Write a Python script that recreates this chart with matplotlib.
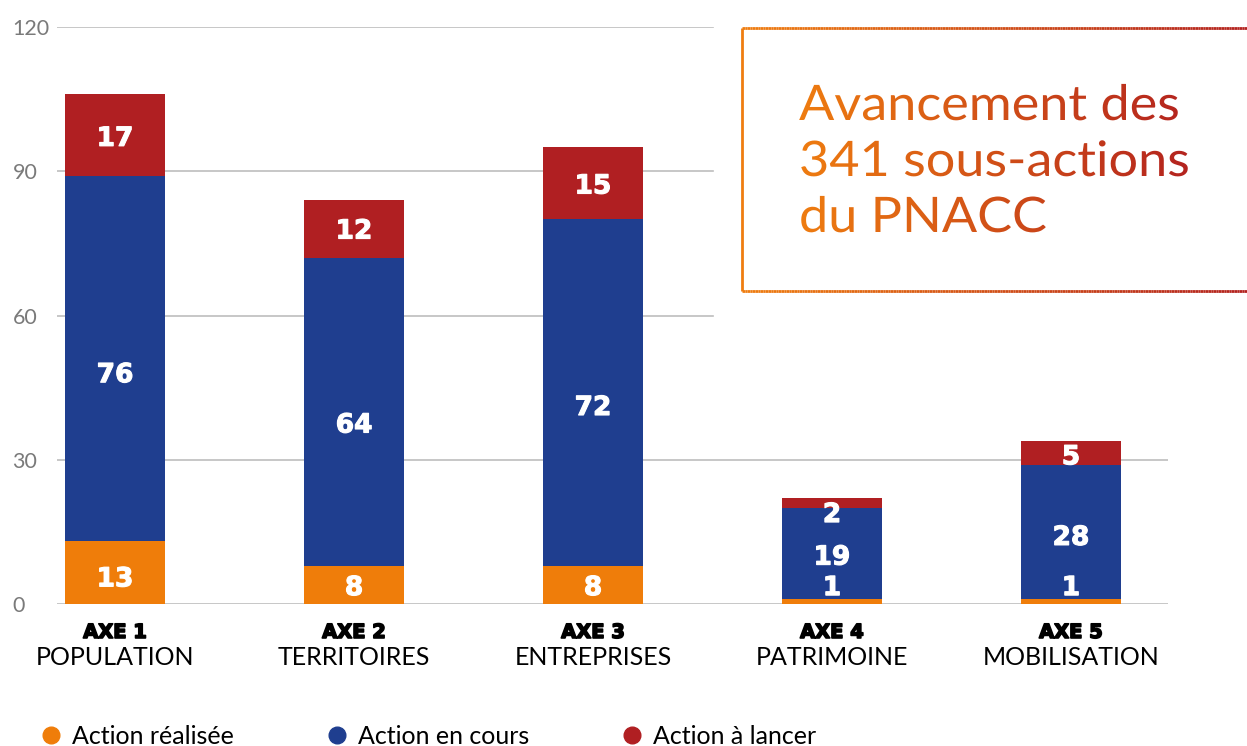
import numpy as np
import matplotlib
matplotlib.use("Agg")
import matplotlib.pyplot as plt
import matplotlib.colors as mcolors
import matplotlib.patheffects as pe
from matplotlib.lines import Line2D
from matplotlib.textpath import TextPath
from matplotlib.patches import PathPatch
from matplotlib.path import Path
from matplotlib.transforms import Affine2D
from matplotlib.font_manager import FontProperties
from matplotlib.collections import LineCollection

# data
axes_num = ["AXE 1", "AXE 2", "AXE 3", "AXE 4", "AXE 5"]
axes_names = ["POPULATION", "TERRITOIRES", "ENTREPRISES", "PATRIMOINE", "MOBILISATION"]
realisee = [13, 8, 8, 1, 1]
en_cours = [76, 64, 72, 19, 28]
a_lancer = [17, 12, 15, 2, 5]
series_labels = ["Action réalisée", "Action en cours", "Action à lancer"]
colors = ["#ef7d0a", "#1f3e8f", "#b01f22"]
yticks = [0, 30, 60, 90, 120]

W, H = 1247, 746
fig = plt.figure(figsize=(W / 100, H / 100), dpi=100)
ax = fig.add_axes([57 / W, 142 / H, 1111 / W, 577 / H])

x = np.arange(len(axes_num))
bottom = np.zeros(len(x))
series = [realisee, en_cours, a_lancer]
for k, (vals, c) in enumerate(zip(series, colors)):
    vals = np.array(vals, dtype=float)
    ax.bar(x, vals, 0.42, bottom=bottom, color=c, zorder=3)
    for i in range(len(x)):
        yc = bottom[i] + vals[i] / 2 - 0.045 * vals[i] - (0.8 if k == 0 else 0)
        if k == 0:
            yc = max(yc, 3.3)
        if k == 2:
            yc = min(yc, bottom[i] + vals[i] - 3.5)
        ax.text(x[i], yc, str(int(vals[i])), ha="center", va="center",
                color="white", fontsize=19, fontweight="bold",
                family="DejaVu Sans", zorder=4,
                path_effects=[pe.withStroke(linewidth=0.8, foreground="white")])
    bottom += vals

ax.set_xlim(-0.243, 4.406)
ax.set_ylim(0, 120)
for s in ax.spines.values():
    s.set_visible(False)
ax.set_xticks([])
ax.set_yticks(yticks)
ax.tick_params(axis="y", length=0, pad=32, labelsize=15.5, labelcolor="#7a7a7a")
for t in ax.get_yticklabels():
    t.set_ha("left")
    t.set_family("Lato")
for v in yticks:
    xmax = 1.0 if v <= 30 else 0.5905
    ax.axhline(v, xmin=0, xmax=xmax, color="#bdbdbd", lw=1.2, zorder=1)

for i in range(len(x)):
    ax.annotate(axes_num[i], xy=(x[i], 0), xycoords=("data", "axes fraction"),
                xytext=(0, -20.5), textcoords="offset points", ha="center", va="center",
                fontsize=14, fontweight="bold", family="DejaVu Sans", color="black",
                path_effects=[pe.withStroke(linewidth=1.2, foreground="black")])
    ax.annotate(axes_names[i], xy=(x[i], 0), xycoords=("data", "axes fraction"),
                xytext=(0, -38.5), textcoords="offset points", ha="center", va="center",
                fontsize=18, family="Lato", color="black")

# legend
handles = [Line2D([], [], marker="o", ls="", color=c, markersize=12) for c in colors]
fig.legend(handles, series_labels, loc="center left", bbox_to_anchor=(41 / W, 10 / H),
           ncol=3, frameon=False, prop={"family": "Lato", "size": 18},
           handlelength=0.8, handletextpad=0.45, columnspacing=3.7,
           borderpad=0, borderaxespad=0)

# title box with gradient
ov = fig.add_axes([0, 0, 1, 1], zorder=5)
ov.patch.set_alpha(0)
ov.axis("off")
grad = mcolors.LinearSegmentedColormap.from_list("g", ["#ef7d10", "#b3221f"])

fp = FontProperties(family="Lato", weight="normal")
title_lines = ["Avancement des", "341 sous-actions", "du PNACC"]
tps = []
stretch = Affine2D().translate(-799, 0).scale(1.065, 1.0).translate(799, 0)
for k, line in enumerate(title_lines):
    tp = TextPath((799, H - 120 - 56 * k), line, size=49, prop=fp)
    tps.append(stretch.transform_path(tp))
compound = Path.make_compound_path(*tps)
patch = PathPatch(compound, facecolor="none", edgecolor="none", transform=ov.transData)
ov.add_patch(patch)
g = np.linspace(0, 1, 256).reshape(1, -1)
im = ov.imshow(g, cmap=grad, extent=[797, 1195, H - 250, H - 60], aspect="auto",
               origin="lower", interpolation="bicubic")
im.set_clip_path(patch)

bx0, bx1, by0, by1 = 742, 1260, H - 291, H - 28
xs = np.linspace(bx0, bx1, 200)
segs = []
cols = []
for yb in (by0, by1):
    for a, b in zip(xs[:-1], xs[1:]):
        segs.append([(a, yb), (b, yb)])
        cols.append(grad((a - bx0) / (1247 - bx0)))
segs.append([(bx0, by0), (bx0, by1)])
cols.append(grad(0.0))
ov.add_collection(LineCollection(segs, colors=cols, linewidths=2))
ov.set_xlim(0, W)
ov.set_ylim(0, H)

fig.savefig("out.png", dpi=100)
